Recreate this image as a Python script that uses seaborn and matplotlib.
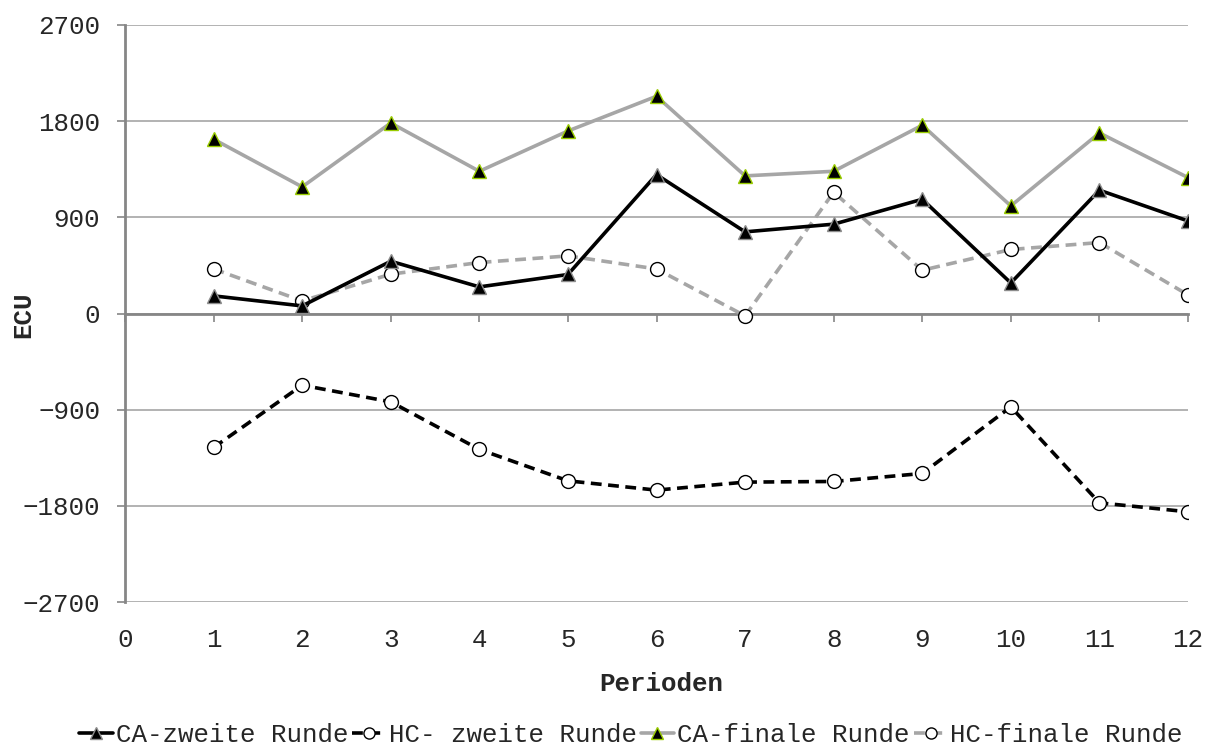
import matplotlib
matplotlib.use("Agg")
import matplotlib.pyplot as plt
import seaborn as sns

# Periods and average payoffs (ECU) per treatment
perioden = list(range(1, 13))
ca_zweite = [165, 71, 489, 249, 365, 1300, 764, 836, 1069, 286, 1154, 866]
hc_zweite = [-1254, -671, -827, -1272, -1566, -1653, -1578, -1572, -1497, -874, -1772, -1856]
ca_finale = [1631, 1185, 1783, 1331, 1708, 2033, 1288, 1331, 1762, 1007, 1690, 1272]
hc_finale = [417, 118, 368, 477, 539, 417, -22, 1135, 405, 599, 664, 174]

x_ticks = list(range(0, 13))
y_ticks = [-2700, -1800, -900, 0, 900, 1800, 2700]

sns.set_theme(style="white")
plt.rcParams['font.family'] = ['Liberation Mono', 'DejaVu Sans Mono']
FS = 18.6
AXIS_GREY = '#868686'
GRID_GREY = '#a6a6a6'
LIGHT = '#a6a6a6'

W, H = 1219, 749
fig = plt.figure(figsize=(W / 100, H / 100), dpi=100)
L, R, T, B = 125, 1188, 25, 602
ax = fig.add_axes([L / W, 1 - B / H, (R - L) / W, (B - T) / H])

ax.set_xlim(0, 12)
ax.set_ylim(-2700, 2700)
ax.set_yticks(y_ticks)
ax.set_xticks(x_ticks)
ax.yaxis.grid(True, color=GRID_GREY, lw=1.2)
ax.set_axisbelow(True)

# Series
sns.lineplot(x=perioden, y=ca_zweite, ax=ax, color='black', lw=2.6,
             marker='^', ms=10, mfc='black', mec='#8c8c8c', mew=1,
             label='CA-zweite Runde', zorder=4)
sns.lineplot(x=perioden, y=hc_zweite, ax=ax, color='black', lw=2.6,
             linestyle='--', marker='o', ms=10, mfc='white', mec='black',
             mew=1, label='HC- zweite Runde', zorder=4)
ax.lines[-1].set_dashes([3, 1.8])
sns.lineplot(x=perioden, y=ca_finale, ax=ax, color=LIGHT, lw=2.6,
             marker='^', ms=10, mfc='black', mec='#99cc00', mew=1,
             label='CA-finale Runde', zorder=3)
sns.lineplot(x=perioden, y=hc_finale, ax=ax, color=LIGHT, lw=2.6,
             linestyle='--', marker='o', ms=10, mfc='white', mec='black',
             mew=1, label='HC-finale Runde', zorder=3)
ax.lines[-1].set_dashes([3, 1.8])

# Spines: y axis on the left, x axis line through zero
for side in ('top', 'right'):
    ax.spines[side].set_visible(False)
ax.spines['left'].set_color(AXIS_GREY)
ax.spines['left'].set_linewidth(2)
ax.spines['bottom'].set_position(('data', 0))
ax.spines['bottom'].set_color(AXIS_GREY)
ax.spines['bottom'].set_linewidth(2)
ax.spines['bottom'].set_zorder(2)

ax.tick_params(axis='y', direction='out', length=6, width=1.2,
               color=AXIS_GREY, pad=12, labelsize=FS, left=True)
ax.tick_params(axis='x', direction='out', length=6, width=1.2,
               color=AXIS_GREY, labelbottom=False, bottom=True)

# Period labels along the bottom edge
sec = ax.secondary_xaxis('bottom')
sec.set_xticks(x_ticks)
sec.tick_params(length=0, pad=19, labelsize=FS)
sec.spines['bottom'].set_visible(False)

ax.set_xlabel('')
ax.set_ylabel('')
fig.text(661 / W, 1 - 684 / H, 'Perioden', ha='center', va='center',
         fontsize=FS, fontweight='bold')
fig.text(23 / W, 1 - 315 / H, 'ECU', ha='center', va='center',
         fontsize=FS, fontweight='bold', rotation=90)

handles, labels = ax.get_legend_handles_labels()
ax.get_legend().remove()
fig.legend(handles, labels, loc='center', ncol=4, frameon=False,
           bbox_to_anchor=(631 / W, 1 - 735 / H), fontsize=FS,
           handlelength=1.3, handletextpad=0.12, columnspacing=0.15,
           markerscale=0.8, borderpad=0)

fig.savefig('out.png', dpi=100)
